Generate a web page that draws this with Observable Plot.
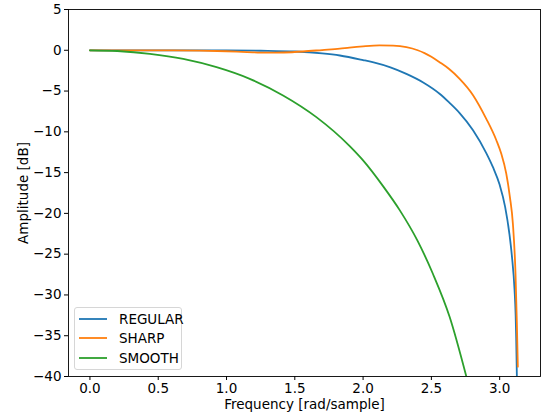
<!DOCTYPE html>
<html><head><meta charset="utf-8">
<script src="https://cdn.jsdelivr.net/npm/d3@7"></script>
<script src="https://cdn.jsdelivr.net/npm/@observablehq/plot@0.6"></script>
<style>
body{margin:0;background:#fff;font-family:"DejaVu Sans",sans-serif}
#wrap{position:relative;width:546px;height:420px}
#legend{position:absolute;left:74px;top:307px;width:108px;height:63px;border:1px solid #d6d6d6;border-radius:3px;background:rgba(255,255,255,0.8);box-sizing:border-box}
.item{position:absolute;left:4px;height:20px;font-size:13.5px;color:#000;line-height:20px}
.item svg{position:absolute;left:0;top:0}
.lbl{position:absolute;left:40px;top:0;white-space:nowrap}
</style>
</head><body><div id="wrap"></div>
<script>
const seriesNames = ["REGULAR", "SHARP", "SMOOTH"];
const seriesColors = ["#1f77b4", "#ff7f0e", "#2ca02c"];

const regularFreq = [0, 0.5, 0.9, 1.0, 1.25, 1.5, 1.7, 1.83, 2.0, 2.07, 2.2, 2.317, 2.44, 2.56, 2.63, 2.707, 2.805, 2.902, 2.95, 3.0, 3.04, 3.072, 3.09, 3.109, 3.117, 3.121, 3.126];
const regularDb   = [0, 0, -0.01, -0.02, -0.06, -0.15, -0.38, -0.64, -1.2, -1.46, -2.1, -2.9, -3.95, -5.33, -6.4, -7.7, -9.8, -12.6, -14.3, -16.5, -19.2, -22.6, -25.3, -29.4, -32.5, -35.3, -40.0];

const sharpFreq = [0, 0.5, 0.8, 1.0, 1.15, 1.29, 1.42, 1.56, 1.7, 1.83, 1.9, 2.0, 2.12, 2.22, 2.317, 2.4, 2.45, 2.5, 2.56, 2.63, 2.707, 2.805, 2.902, 2.975, 3.012, 3.048, 3.075, 3.097, 3.116, 3.126, 3.133];
const sharpDb   = [0, 0, -0.04, -0.12, -0.22, -0.3, -0.27, -0.15, 0.03, 0.2, 0.33, 0.48, 0.59, 0.56, 0.38, 0.0, -0.35, -0.8, -1.46, -2.3, -3.5, -5.5, -8.4, -11.0, -12.7, -15.1, -18.0, -21.3, -27.4, -33.5, -38.8];

const smoothFreq = [0, 0.2, 0.439, 0.683, 0.927, 1.17, 1.414, 1.658, 1.902, 2.0, 2.15, 2.268, 2.4, 2.511, 2.634, 2.756];
const smoothDb   = [0, -0.09, -0.43, -1.05, -2.07, -3.5, -5.54, -8.2, -11.75, -13.5, -16.75, -19.6, -23.4, -27.4, -32.7, -40.0];

const xTicks = [0, 0.5, 1.0, 1.5, 2.0, 2.5, 3.0];
const yTicks = [-40, -35, -30, -25, -20, -15, -10, -5, 0, 5];

const freqs = [regularFreq, sharpFreq, smoothFreq];
const dbs = [regularDb, sharpDb, smoothDb];
const rows = [];
seriesNames.forEach((name, i) => {
  freqs[i].forEach((f, j) => rows.push({series: name, freq: f, db: dbs[i][j]}));
});

const chart = Plot.plot({
  width: 546,
  height: 420,
  marginLeft: 68,
  marginRight: 6,
  marginTop: 9,
  marginBottom: 44,
  style: {fontFamily: "DejaVu Sans, sans-serif", fontSize: "13.5px", color: "#000", background: "#fff"},
  x: {domain: [-0.157, 3.299]},
  y: {domain: [-40, 5]},
  color: {domain: seriesNames, range: seriesColors},
  marks: [
    Plot.line(rows, {x: "freq", y: "db", z: "series", stroke: "series", strokeWidth: 1.8, curve: "monotone-x", clip: true}),
    Plot.frame({stroke: "#000", strokeWidth: 0.9}),
    Plot.axisX({ticks: xTicks, tickFormat: d3.format(".1f"), tickSize: 4, tickPadding: 3, fontSize: 13.5,
      label: "Frequency [rad/sample]", labelAnchor: "center", labelArrow: "none", labelOffset: 32}),
    Plot.axisY({ticks: yTicks, tickFormat: d3.format("d"), tickSize: 4, tickPadding: 3, fontSize: 13.5,
      label: "Amplitude [dB]", labelAnchor: "center", labelArrow: "none", labelOffset: 50})
  ]
});
const wrap = document.getElementById("wrap");
wrap.appendChild(chart);

const legend = document.createElement("div");
legend.id = "legend";
seriesNames.forEach((name, i) => {
  const item = document.createElement("div");
  item.className = "item";
  item.style.top = (0.5 + i * 19.5) + "px";
  item.innerHTML = '<svg width="30" height="20"><line x1="0" x2="28" y1="10" y2="10" stroke="' + seriesColors[i] + '" stroke-width="1.8"/></svg>';
  const lb = document.createElement("div");
  lb.className = "lbl";
  lb.textContent = name;
  item.appendChild(lb);
  legend.appendChild(item);
});
wrap.appendChild(legend);
</script>
</body></html>
